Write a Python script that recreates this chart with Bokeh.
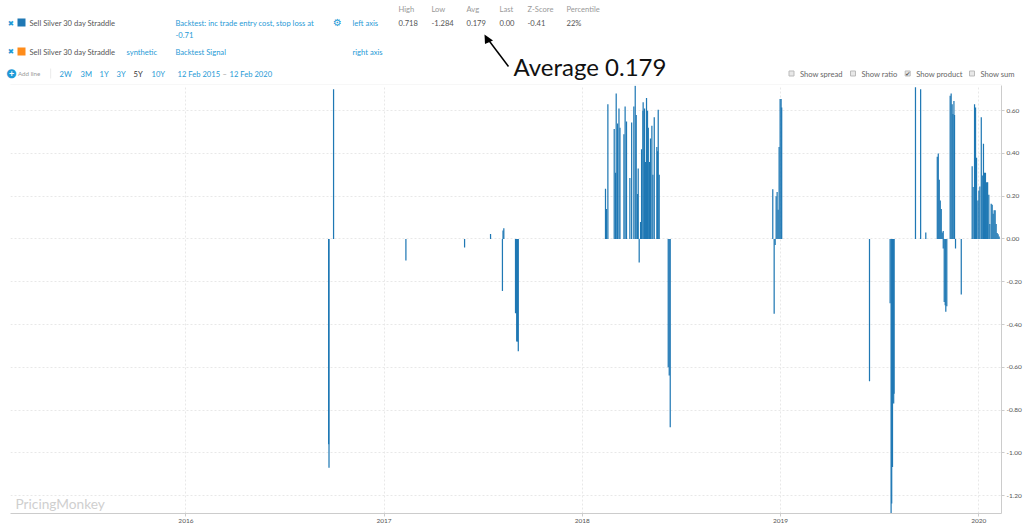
from bokeh.plotting import figure
from bokeh.core.properties import value
from bokeh.models import Label, NumeralTickFormatter, FixedTicker
from bokeh.embed import file_html
from bokeh.resources import INLINE

# Values: (time in decimal years, value)
years = [
    2016.720, 2016.722, 2016.745, 2017.110, 2017.406, 2017.537, 2017.597, 2017.600, 2017.604,
    2017.663, 2017.667, 2017.669, 2017.673, 2017.677,
    2018.117, 2018.122, 2018.129, 2018.161, 2018.168, 2018.171, 2018.178, 2018.185, 2018.190,
    2018.210, 2018.216, 2018.223, 2018.240, 2018.249, 2018.260, 2018.267, 2018.272, 2018.279,
    2018.282, 2018.287, 2018.294, 2018.299, 2018.306, 2018.307, 2018.314, 2018.319, 2018.324,
    2018.329, 2018.333, 2018.339, 2018.344, 2018.351, 2018.356, 2018.363, 2018.376, 2018.380,
    2018.383, 2018.388, 2018.4335, 2018.4386, 2018.4436,
    2018.961, 2018.968, 2018.973, 2018.978, 2018.983, 2018.988, 2018.993, 2018.998, 2019.003, 2019.006,
    2019.449, 2019.553, 2019.558, 2019.561, 2019.565, 2019.568, 2019.571, 2019.573,
    2019.681, 2019.707, 2019.733,
    2019.791, 2019.796, 2019.801, 2019.806, 2019.811, 2019.816, 2019.821,
    2019.8211, 2019.826, 2019.831, 2019.834, 2019.839, 2019.883, 2019.912,
    2019.856, 2019.861, 2019.866, 2019.870, 2019.875, 2019.878,
    2019.967, 2019.972, 2019.979, 2019.984, 2019.989, 2019.996, 2020.001, 2020.006, 2020.013,
    2020.018, 2020.024, 2020.029, 2020.034, 2020.040, 2020.045, 2020.051, 2020.056, 2020.063,
    2020.068, 2020.073, 2020.078, 2020.083, 2020.088, 2020.093, 2020.098, 2020.103,
]
values = [
    -0.96, -1.07, 0.70, -0.10, -0.04, 0.023, -0.243, 0.04, 0.05,
    -0.347, -0.347, -0.48, -0.48, -0.525,
    0.235, 0.14, 0.63, 0.515, 0.31, 0.68, 0.54, 0.61, 0.52,
    0.49, 0.62, 0.55, 0.285, 0.545, 0.62, 0.717, 0.58, 0.21,
    0.33, -0.11, 0.08, 0.42, 0.60, 0.64, 0.61, 0.36, 0.66,
    0.60, 0.52, 0.36, 0.47, 0.53, 0.30, 0.57, 0.43, 0.41,
    0.605, 0.30, -0.60, -0.638, -0.88,
    0.233, -0.35, -0.028, 0.20, 0.22, 0.137, 0.43, 0.655, 0.655, 0.615,
    -0.665, -0.30, -1.284, -1.237, -1.066, -0.724, -0.77, -0.724,
    0.71, 0.70, 0.03,
    0.385, 0.40, 0.277, 0.18, 0.14, 0.03, 0.037,
    -0.045, -0.295, -0.31, -0.34, -0.315, -0.045, -0.26,
    0.67, 0.68, 0.63, 0.585, 0.645, 0.58,
    0.34, 0.243, 0.63, 0.615, 0.38, 0.18, 0.227, 0.245, 0.57,
    0.297, 0.445, 0.31, 0.31, 0.266, 0.266, 0.207, 0.07, 0.165,
    0.16, 0.118, 0.134, 0.134, 0.07, 0.028, 0.022, 0.012,
]
x_ticks = [2016, 2017, 2018, 2019, 2020]
y_ticks = [-1.2, -1.0, -0.8, -0.6, -0.4, -0.2, 0.0, 0.2, 0.4, 0.6]

series_name = "Sell Silver 30 day Straddle"
backtest_1 = "Backtest: inc trade entry cost, stop loss at"
backtest_2 = "-0.71"
stat_heads = ["High", "Low", "Avg", "Last", "Z-Score", "Percentile"]
stat_vals = ["0.718", "-1.284", "0.179", "0.00", "-0.41", "22%"]
ranges = ["2W", "3M", "1Y", "3Y", "5Y", "10Y"]
checks = ["Show spread", "Show ratio", "Show product", "Show sum"]

BLUE = "#1f78b4"
LINK = "#1f9ad6"
GREY = "#999999"
FONT = "Lato"
TS = 7.6

L, R, T, B = 10, 1001, 85, 513

# ---------- header strip: a figure whose data units are page pixels ----------
h = figure(width=1024, height=T, output_backend="svg", toolbar_location=None,
           x_range=(0, 1024), y_range=(T, 0), min_border=0,
           outline_line_color=None, x_axis_location=None, y_axis_location=None)
h.xgrid.visible = False
h.ygrid.visible = False

def tx(x, y, s, color="#555555", size=TS, font=FONT, align="left", weight="normal"):
    h.text(x=[x], y=[y], text=[s], text_color=color, text_font=value(font),
           text_font_size=f"{size}px", text_align=align, text_baseline="middle", text_font_style=weight)

def box(x0, y0, x1, y1, fill, line=None):
    h.quad(left=[x0], right=[x1], top=[y0], bottom=[y1], fill_color=fill, line_color=line)

for x, a, v in zip([398, 431, 466, 499, 527, 566], stat_heads, stat_vals):
    tx(x, 8, a, GREY)
    tx(x, 22, v)
# row 1
tx(10.5, 22.5, "\u2716", LINK, 7.5, "DejaVu Sans", "center")
box(17, 18, 25, 26, BLUE)
tx(29, 22.5, series_name)
tx(175, 22.5, backtest_1, LINK)
tx(175, 34, backtest_2, LINK)
tx(337, 22, "\u2699", LINK, 10, "DejaVu Sans", "center")
tx(352, 22.5, "left axis", LINK)
# row 2
tx(10.5, 51, "\u2716", LINK, 7.5, "DejaVu Sans", "center")
box(17, 47, 25, 55, "#ff8c1a")
tx(29, 51, series_name)
tx(126, 51, "synthetic", LINK)
tx(175, 51, "Backtest Signal", LINK)
tx(352, 51, "right axis", LINK)
# row 3
tx(11, 72.5, "\u25cf", LINK, 12, "DejaVu Sans", "center")
tx(11, 72.5, "+", "white", 9, FONT, "center", "bold")
tx(17.5, 73, "Add line", GREY, 6.2)
box(50, 68, 50.6, 78, "#dddddd")
for x, s in zip([59, 80, 99, 116, 133, 151], ranges):
    tx(x, 73, s, "#333333" if s == "5Y" else LINK)
tx(177, 73, "12 Feb 2015", LINK)
tx(222, 73, "\u2013", GREY)
tx(229, 73, "12 Feb 2020", LINK)
# checkboxes
for x, s in zip([788.5, 850, 904.7, 969], checks):
    box(x, 70.5, x + 5, 75.5, "#e8e8e8", "#bbbbbb")
    if s == "Show product":
        tx(x + 2.5, 73, "\u2714", "#555555", 6, "DejaVu Sans", "center")
    tx(x + 11, 73, s, "#666666")
# annotation text and arrow
tx(513, 66, "Average 0.179", "#111111", 24)
h.segment(x0=[508], y0=[66], x1=[488], y1=[39.5], line_color="black", line_width=1.5)
h.patch(x=[484, 492.5, 484.5], y=[34, 40, 43.5], fill_color="black", line_color=None)
# top edge of the plot
h.segment(x0=[L], y0=[84.5], x1=[R], y1=[84.5], line_color="#eeeeee", line_width=1)

# ---------- chart ----------
p = figure(width=1024, height=528 - T, output_backend="svg", toolbar_location=None,
           x_range=(2015.115, 2020.115), y_range=(-1.284, 0.718),
           y_axis_location="right", min_border_left=L, min_border_right=1024 - R,
           min_border_top=0, min_border_bottom=528 - B, outline_line_color=None)

p.vbar(x=years, top=values, bottom=0, width=0.0062, color=BLUE, line_color=None)

for g in (p.xgrid, p.ygrid):
    g.grid_line_color = "#e8e8e8"
    g.grid_line_dash = "2 2"
    g.grid_line_width = 1
p.xaxis.ticker = FixedTicker(ticks=x_ticks)
p.yaxis.ticker = FixedTicker(ticks=y_ticks)
p.xgrid.ticker = FixedTicker(ticks=x_ticks)
p.ygrid.ticker = FixedTicker(ticks=y_ticks)
p.xaxis.formatter = NumeralTickFormatter(format="0")
p.yaxis.formatter = NumeralTickFormatter(format="0.00")
for a in (p.xaxis[0], p.yaxis[0]):
    a.axis_line_color = "#cccccc"
    a.major_tick_line_color = "#cccccc"
    a.major_tick_in = 0
    a.major_tick_out = 3
    a.minor_tick_line_color = None
    a.major_label_text_font = FONT
    a.major_label_text_font_size = "6.5px"
    a.major_label_text_color = "#555555"
    a.major_label_standoff = 2

p.add_layout(Label(x=15 - L, y=B - 502.5, x_units="screen", y_units="screen", text="PricingMonkey",
                   text_color="#cfcfcf", text_font=FONT, text_font_size="13.7px", text_baseline="middle"))

open("out.html", "w").write(file_html((h, p), INLINE))
